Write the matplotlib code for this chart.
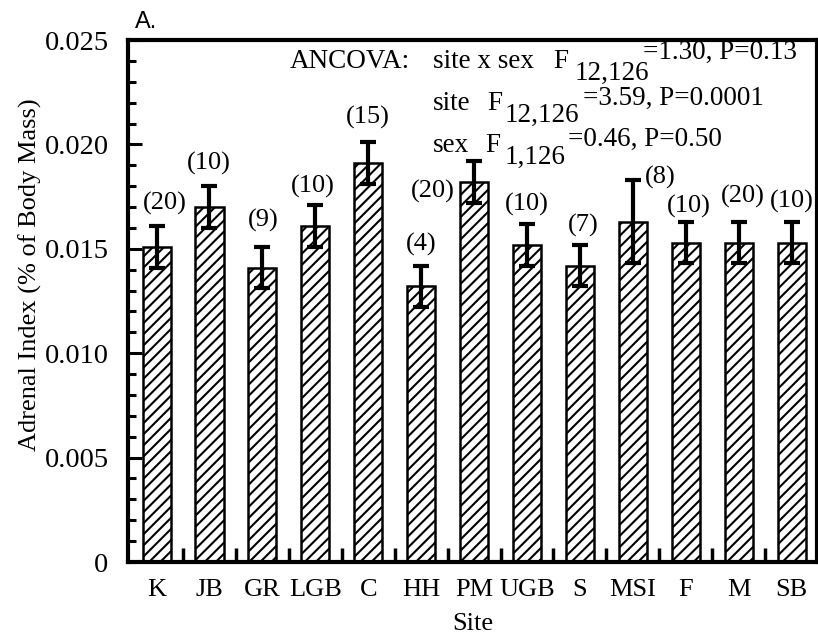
import numpy as np
import matplotlib
matplotlib.use('Agg')
import matplotlib.pyplot as plt
from matplotlib.ticker import MultipleLocator, FixedLocator

# Data
sites = ['K', 'JB', 'GR', 'LGB', 'C', 'HH', 'PM', 'UGB', 'S', 'MSI', 'F', 'M', 'SB']
means = [0.0151, 0.0170, 0.0141, 0.0161, 0.0191, 0.0132, 0.0182,
         0.0152, 0.0142, 0.0163, 0.0153, 0.0153, 0.0153]
errors = [0.0010, 0.0010, 0.0010, 0.0010, 0.0010, 0.0010, 0.0010,
          0.0010, 0.0010, 0.0020, 0.0010, 0.0010, 0.0010]
n_labels = ['(20)', '(10)', '(9)', '(10)', '(15)', '(4)', '(20)',
            '(10)', '(7)', '(8)', '(10)', '(20)', '(10)']

# label offsets from the top of each error bar (pixels)
label_dx = [8, -1, 1, -3, 0, 0, -41, 0, 3, 27, 3, 4, 0]
label_dy = [22, 23, 26, 18, 25, 21, -30, 19, 19, 2, 15, 25, 20]

plt.rcParams['font.family'] = ['Liberation Serif', 'DejaVu Serif']
plt.rcParams['hatch.linewidth'] = 1.5
W, H = 818, 638
fig = plt.figure(figsize=(W / 100, H / 100), dpi=100)
ax = fig.add_axes([128 / W, (H - 562) / H, (817 - 128) / W, 522 / H])

x = np.arange(len(sites))
ax.bar(x, means, width=0.53, color='white', edgecolor='black',
       linewidth=1.8, hatch='///', zorder=2)
ax.errorbar(x, means, yerr=errors, fmt='none', ecolor='black',
            elinewidth=3, capsize=5.5, capthick=3, zorder=3)

for i in range(len(sites)):
    ax.annotate(n_labels[i], xy=(x[i], means[i] + errors[i]),
                xytext=(label_dx[i], label_dy[i]), textcoords='offset pixels',
                ha='center', va='center', fontsize=19)

ax.set_xlim(-0.54, 12.48)
ax.set_ylim(0, 0.025)
ax.set_xticks(x)
ax.set_xticklabels(sites)
ax.xaxis.set_minor_locator(FixedLocator(x[:-1] + 0.5))
ax.tick_params(axis='x', which='major', length=0, pad=12, labelsize=19)
ax.tick_params(axis='x', which='minor', direction='in', length=10, width=2.5)
ax.set_yticks([0, 0.005, 0.01, 0.015, 0.02, 0.025])
ax.set_yticklabels(['0', '0.005', '0.010', '0.015', '0.020', '0.025'])
ax.yaxis.set_minor_locator(MultipleLocator(0.001))
ax.tick_params(axis='y', which='major', direction='in', length=10, width=2.2,
               pad=14, labelsize=20.5)
ax.tick_params(axis='y', which='minor', direction='in', length=6, width=2.2)
ax.tick_params(right=False, top=False, which='both')
for s in ax.spines.values():
    s.set_linewidth(3)

ax.set_ylabel('Adrenal Index (% of Body Mass)', fontsize=19)
ax.yaxis.set_label_coords(-0.125, 0.55)
ax.set_xlabel('Site', fontsize=19)
ax.xaxis.set_label_coords(0.5, -0.097)

# ANCOVA results, placed in figure pixels (top-left origin)
def put(s, px, py, size=19.5):
    ax.annotate(s, xy=(px, H - py), xycoords='figure pixels',
                ha='left', va='center', fontsize=size, annotation_clip=False)

put('ANCOVA:', 290, 61)
put('site x sex', 433, 61)
put('F', 553, 61)
put('12,126', 575, 73)
put('=1.30, P=0.13', 643, 52)
put('site', 433, 104)
put('F', 487, 104)
put('12,126', 505, 115)
put('=3.59, P=0.0001', 583, 98)
put('sex', 433, 146)
put('F', 485, 146)
put('1,126', 505, 157)
put('=0.46, P=0.50', 568, 139)

fig.text(135 / W, 1 - 22 / H, 'A.', family='Liberation Sans', fontsize=17,
         ha='left', va='center')

fig.savefig('out.png', dpi=100)
